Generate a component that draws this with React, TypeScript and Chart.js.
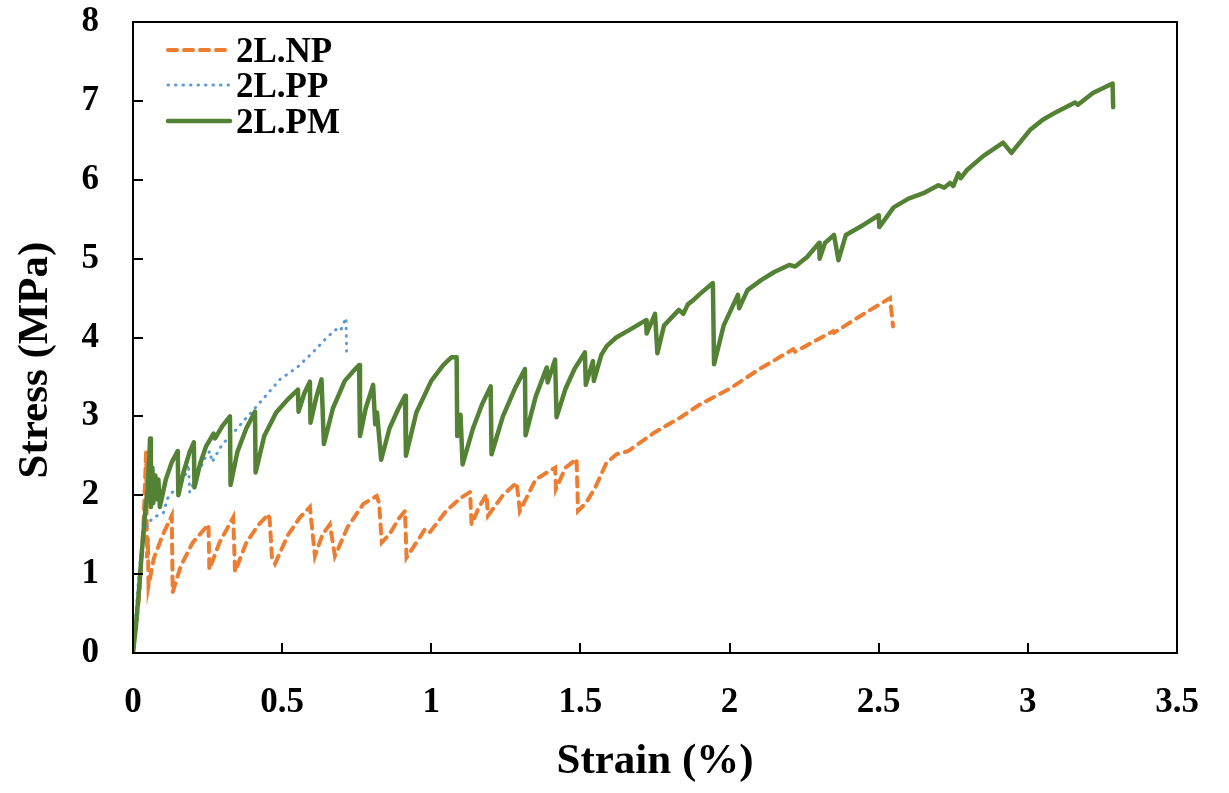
import React, { useEffect, useRef } from 'react';
import { Chart, registerables } from 'chart.js';

Chart.register(...registerables);

// ---------- data ----------
const seriesNames = ['2L.NP', '2L.PP', '2L.PM'];
const seriesColors = ['#ED7D31', '#5B9BD5', '#548235'];
const xTickLabels = ['0', '0.5', '1', '1.5', '2', '2.5', '3', '3.5'];
const yTickLabels = ['0', '1', '2', '3', '4', '5', '6', '7', '8'];
const xAxisTitle = 'Strain (%)';
const yAxisTitle = 'Stress (MPa)';

const npStrain = [
  0, 0.02, 0.035, 0.044, 0.047, 0.05, 0.052, 0.07, 0.1, 0.13, 0.133, 0.16, 0.2, 0.253, 0.256, 0.29,
  0.336, 0.342, 0.38, 0.42, 0.454, 0.458, 0.466, 0.476, 0.52, 0.56, 0.593, 0.61, 0.635, 0.66, 0.677,
  0.72, 0.772, 0.817, 0.825, 0.834, 0.861, 0.89, 0.912, 0.917, 0.95, 0.979, 0.995, 1.05, 1.1, 1.13,
  1.135, 1.16, 1.185, 1.19, 1.24, 1.286, 1.297, 1.35, 1.415, 1.418, 1.45, 1.487, 1.492, 1.52, 1.55,
  1.587, 1.621, 1.66, 1.75, 1.833, 1.9, 2.0, 2.1, 2.213, 2.22, 2.347, 2.35, 2.45, 2.538, 2.548,
];
const npStress = [
  0, 0.7, 1.6, 2.56, 1.2, 1.45, 0.85, 1.2, 1.5, 1.74, 0.77, 1.1, 1.4, 1.63, 1.06, 1.4,
  1.72, 1.03, 1.4, 1.62, 1.76, 1.7, 1.2, 1.13, 1.5, 1.72, 1.85, 1.23, 1.5, 1.63, 1.23,
  1.6, 1.89, 1.99, 1.9, 1.4, 1.51, 1.7, 1.8, 1.21, 1.4, 1.57, 1.53, 1.8, 1.97, 2.04,
  1.63, 1.85, 2.01, 1.74, 2.0, 2.16, 1.8, 2.2, 2.35, 2.08, 2.35, 2.46, 1.8, 1.91, 2.1,
  2.41, 2.52, 2.56, 2.8, 2.98, 3.15, 3.35, 3.6, 3.85, 3.82, 4.08, 4.06, 4.3, 4.5, 4.14,
];

const ppStrain = [
  0, 0.008, 0.012, 0.02, 0.029, 0.04, 0.051, 0.07, 0.102, 0.115, 0.124, 0.15, 0.175, 0.186, 0.19,
  0.22, 0.245, 0.258, 0.265, 0.3, 0.336, 0.375, 0.415, 0.493, 0.55, 0.6, 0.65, 0.68, 0.695, 0.714, 0.716,
];
const ppStress = [
  0, 0.4, 0.6, 1.0, 1.36, 1.55, 1.65, 1.72, 1.78, 1.95, 2.01, 2.1, 2.25, 2.39, 2.04,
  2.3, 2.5, 2.56, 2.42, 2.65, 2.79, 2.96, 3.13, 3.47, 3.62, 3.8, 4.0, 4.1, 4.08, 4.25, 3.82,
];

const pmStrain = [
  0, 0.01, 0.02, 0.03, 0.04, 0.05, 0.055, 0.057, 0.06, 0.065, 0.068, 0.075, 0.078, 0.085, 0.09,
  0.11, 0.13, 0.15, 0.152, 0.17, 0.19, 0.204, 0.206, 0.225, 0.245, 0.27, 0.275, 0.3, 0.325, 0.327,
  0.35, 0.38, 0.409, 0.411, 0.44, 0.48, 0.52, 0.553, 0.555, 0.575, 0.593, 0.595, 0.615, 0.632, 0.64,
  0.67, 0.71, 0.745, 0.758, 0.761, 0.78, 0.805, 0.812, 0.818, 0.832, 0.86, 0.89, 0.912, 0.915, 0.95,
  1.0, 1.04, 1.068, 1.085, 1.087, 1.098, 1.105, 1.14, 1.17, 1.199, 1.202, 1.24, 1.28, 1.314, 1.316,
  1.35, 1.387, 1.39, 1.415, 1.42, 1.45, 1.48, 1.515, 1.518, 1.542, 1.545, 1.57, 1.588, 1.62, 1.666,
  1.72, 1.722, 1.75, 1.758, 1.78, 1.83, 1.845, 1.86, 1.88, 1.9, 1.944, 1.948, 1.98, 2.028, 2.032,
  2.06, 2.107, 2.15, 2.2, 2.22, 2.26, 2.3, 2.302, 2.32, 2.35, 2.365, 2.39, 2.45, 2.5, 2.502, 2.55,
  2.6, 2.65, 2.7, 2.72, 2.739, 2.75, 2.767, 2.775, 2.795, 2.85, 2.917, 2.945, 3.007, 3.05, 3.096,
  3.158, 3.168, 3.218, 3.284, 3.286,
];
const pmStress = [
  0, 0.35, 0.8, 1.3, 1.75, 2.1, 2.5, 2.72, 1.85, 2.35, 1.9, 2.25, 1.95, 2.2, 1.85,
  2.2, 2.42, 2.56, 2.0, 2.3, 2.55, 2.67, 2.1, 2.4, 2.62, 2.78, 2.72, 2.88, 3.0, 2.13,
  2.55, 2.85, 3.06, 2.29, 2.75, 3.05, 3.22, 3.34, 3.06, 3.3, 3.44, 2.92, 3.25, 3.47, 2.65,
  3.1, 3.45, 3.6, 3.65, 2.75, 3.1, 3.4, 2.9, 3.05, 2.45, 2.85, 3.1, 3.26, 2.5, 3.05,
  3.45, 3.65, 3.75, 3.75, 2.75, 3.02, 2.39, 2.85, 3.15, 3.38, 2.52, 3.0, 3.35, 3.6, 2.76,
  3.25, 3.62, 3.43, 3.72, 2.99, 3.35, 3.6, 3.81, 3.4, 3.7, 3.45, 3.78, 3.89, 4.0, 4.1,
  4.22, 4.05, 4.3, 3.8, 4.15, 4.35, 4.3, 4.42, 4.48, 4.55, 4.69, 3.66, 4.15, 4.54, 4.37,
  4.6, 4.73, 4.83, 4.92, 4.9, 5.02, 5.2, 5.0, 5.2, 5.3, 4.98, 5.3, 5.43, 5.55, 5.4, 5.65,
  5.76, 5.83, 5.93, 5.9, 5.96, 5.92, 6.08, 6.02, 6.12, 6.3, 6.47, 6.34, 6.63, 6.76, 6.86,
  6.98, 6.95, 7.1, 7.22, 6.92,
];

const zip = (xs: number[], ys: number[]) => xs.map((x, i) => ({ x, y: ys[i] }));

const FONT_FAMILY = "'Liberation Serif', 'Times New Roman', serif";

const overlayPlugin = {
  id: 'frameLegendTitles',
  afterDraw(chart: any) {
    const { ctx, chartArea, scales } = chart;
    const { left, right, top, bottom } = chartArea;
    const xs = scales.x;
    const ys = scales.y;
    ctx.save();
    // frame
    ctx.strokeStyle = '#000';
    ctx.lineWidth = 2;
    ctx.setLineDash([]);
    ctx.strokeRect(left, top, right - left, bottom - top);
    // inward ticks
    ctx.beginPath();
    xTickLabels.forEach((lab) => {
      const px = Math.round(xs.getPixelForValue(parseFloat(lab)));
      ctx.moveTo(px, bottom);
      ctx.lineTo(px, bottom - 10);
    });
    yTickLabels.forEach((lab) => {
      const py = Math.round(ys.getPixelForValue(parseFloat(lab)));
      ctx.moveTo(left, py);
      ctx.lineTo(left + 10, py);
    });
    ctx.stroke();

    // legend
    const rowsLine = [50, 85, 121];
    const rowsBase = [62, 97, 133];
    chart.data.datasets.forEach((ds: any, i: number) => {
      ctx.beginPath();
      ctx.strokeStyle = ds.borderColor;
      ctx.lineWidth = ds.borderWidth;
      ctx.lineCap = ds.borderCapStyle || 'butt';
      ctx.setLineDash(ds.borderDash || []);
      ctx.moveTo(168, rowsLine[i]);
      ctx.lineTo(230, rowsLine[i]);
      ctx.stroke();
      ctx.setLineDash([]);
      ctx.fillStyle = '#000';
      ctx.font = `bold 35px ${FONT_FAMILY}`;
      ctx.textAlign = 'left';
      ctx.textBaseline = 'alphabetic';
      ctx.fillText(ds.label, 236, rowsBase[i]);
    });

    // axis titles
    ctx.fillStyle = '#000';
    ctx.font = `bold 43px ${FONT_FAMILY}`;
    ctx.textAlign = 'center';
    ctx.textBaseline = 'alphabetic';
    ctx.fillText(xAxisTitle, (left + right) / 2, 773);
    ctx.translate(47, 360);
    ctx.rotate(-Math.PI / 2);
    ctx.fillText(yAxisTitle, 0, 0);
    ctx.restore();
  },
};

export default function App() {
  const canvasRef = useRef<HTMLCanvasElement | null>(null);

  useEffect(() => {
    document.body.style.margin = '0';
    const canvas = canvasRef.current;
    if (!canvas) return;
    const tickFont = { family: FONT_FAMILY, size: 35, weight: 'bold' as const };
    const chart = new Chart(canvas, {
      type: 'scatter',
      data: {
        datasets: [
          {
            label: seriesNames[0],
            data: zip(npStrain, npStress),
            showLine: true,
            borderColor: seriesColors[0],
            backgroundColor: seriesColors[0],
            borderWidth: 4,
            borderDash: [9, 7],
            borderCapStyle: 'round',
            pointRadius: 0,
            tension: 0,
            order: 2,
          },
          {
            label: seriesNames[1],
            data: zip(ppStrain, ppStress),
            showLine: true,
            borderColor: seriesColors[1],
            backgroundColor: seriesColors[1],
            borderWidth: 3,
            borderDash: [0.5, 7],
            borderCapStyle: 'round',
            pointRadius: 0,
            tension: 0,
            order: 1,
          },
          {
            label: seriesNames[2],
            data: zip(pmStrain, pmStress),
            showLine: true,
            borderColor: seriesColors[2],
            backgroundColor: seriesColors[2],
            borderWidth: 4.5,
            borderCapStyle: 'round',
            borderJoinStyle: 'round',
            pointRadius: 0,
            tension: 0,
            order: 0,
          },
        ],
      },
      options: {
        responsive: false,
        animation: false,
        events: [],
        layout: { padding: { left: 0, right: 52, top: 22, bottom: 0 } },
        plugins: {
          legend: { display: false },
          tooltip: { enabled: false },
          title: { display: false },
        },
        scales: {
          x: {
            type: 'linear',
            min: 0,
            max: 3.5,
            grid: { display: false, drawTicks: false },
            border: { display: false },
            ticks: {
              stepSize: 0.5,
              padding: 29,
              color: '#000',
              font: tickFont,
              maxRotation: 0,
              autoSkip: false,
              callback: (_v: any, i: number) => xTickLabels[i],
            },
            afterFit: (scale: any) => {
              scale.height = 140;
              scale.paddingLeft = 0;
              scale.paddingRight = 0;
            },
          },
          y: {
            type: 'linear',
            min: 0,
            max: 8,
            grid: { display: false, drawTicks: false },
            border: { display: false },
            ticks: {
              stepSize: 1,
              padding: 34,
              color: '#000',
              font: tickFont,
              autoSkip: false,
              callback: (_v: any, i: number) => yTickLabels[i],
            },
            afterFit: (scale: any) => {
              scale.width = 133;
              scale.paddingTop = 0;
              scale.paddingBottom = 0;
            },
          },
        },
      },
      plugins: [overlayPlugin],
    });
    return () => chart.destroy();
  }, []);

  return (
    <div style={{ width: 1229, height: 793 }}>
      <canvas ref={canvasRef} width={1229} height={793} style={{ display: 'block' }} />
    </div>
  );
}
